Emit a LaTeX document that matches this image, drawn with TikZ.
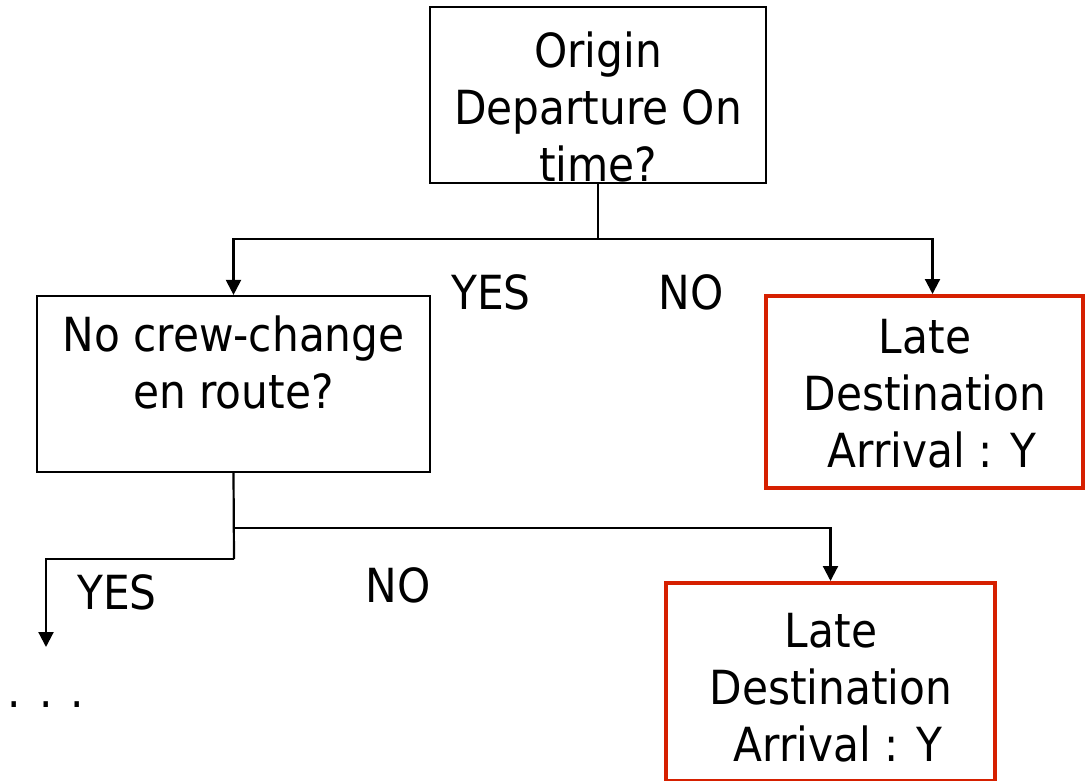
\documentclass[tikz,border=0pt]{standalone}
\usepackage{fontspec}
\setmainfont{DejaVu Sans Condensed}
\usepackage{tikz}
\usepackage{xcolor}
\usetikzlibrary{arrows.meta, positioning, calc}
\definecolor{lateRed}{RGB}{214,32,0}

\begin{document}
\begin{tikzpicture}[x=0.5pt, y=-0.5pt,
  qbox/.style={draw, line width=1.1pt, inner sep=0pt},
  latebox/.style={draw=lateRed, line width=2pt, inner sep=0pt},
  txt/.style={font=\fontsize{23.5}{28.5}\selectfont, align=center, inner sep=0pt},
  line/.style={line width=1.1pt},
  arr/.style={line width=1.1pt, -{Triangle[width=7.5pt,length=7.5pt]}}]
\useasboundingbox (0,0) rectangle (1086,781);

% Origin question
\node[qbox, minimum width=168pt, minimum height=88pt] (origin) at (598,95) {};
\node[txt] (originTxt) at (598,107) {Origin\\Departure On\\time?};

% Crew question
\node[qbox, minimum width=196.5pt, minimum height=88pt] (crew) at (233.5,384) {};
\node[txt] (crewTxt) at (233.5,362) {No crew-change\\en route?};

% Late arrival outcomes
\node[latebox, minimum width=158.5pt, minimum height=96pt] (lateA) at (924.5,392) {};
\node[txt] (lateATxt) at (925,394) {Late\\Destination\\\hspace*{0.3em}Arrival : Y};

\node[latebox, minimum width=164.5pt, minimum height=99pt] (lateB) at (830.5,682) {};
\node[txt] (lateBTxt) at (831,688) {Late\\Destination\\\hspace*{0.3em}Arrival : Y};

% First split
\coordinate (split1) at (598,239);
\draw[line] (origin.south) -- (split1);
\draw[arr] (split1) -| (crew.north);
\draw[arr] (split1) -| ($(lateA.north)+(8,0)$);
\node[txt] (yesA) at (491,292) {YES};
\node[txt] (noA) at (691,292) {NO};

% Second split
\coordinate (split2) at (234,528);
\coordinate (split3) at (234,559);
\coordinate (more) at (46,647);
\draw[line] (crew.south) -- (split3);
\draw[arr] (split2) -| (lateB.north);
\draw[arr] (split3) -| (more);
\node[txt] (yesB) at (117,592) {YES};
\node[txt] (noB) at (398,585) {NO};
\node[txt, anchor=base] (dots) at (46,707) {. . .};
\end{tikzpicture}
\end{document}
